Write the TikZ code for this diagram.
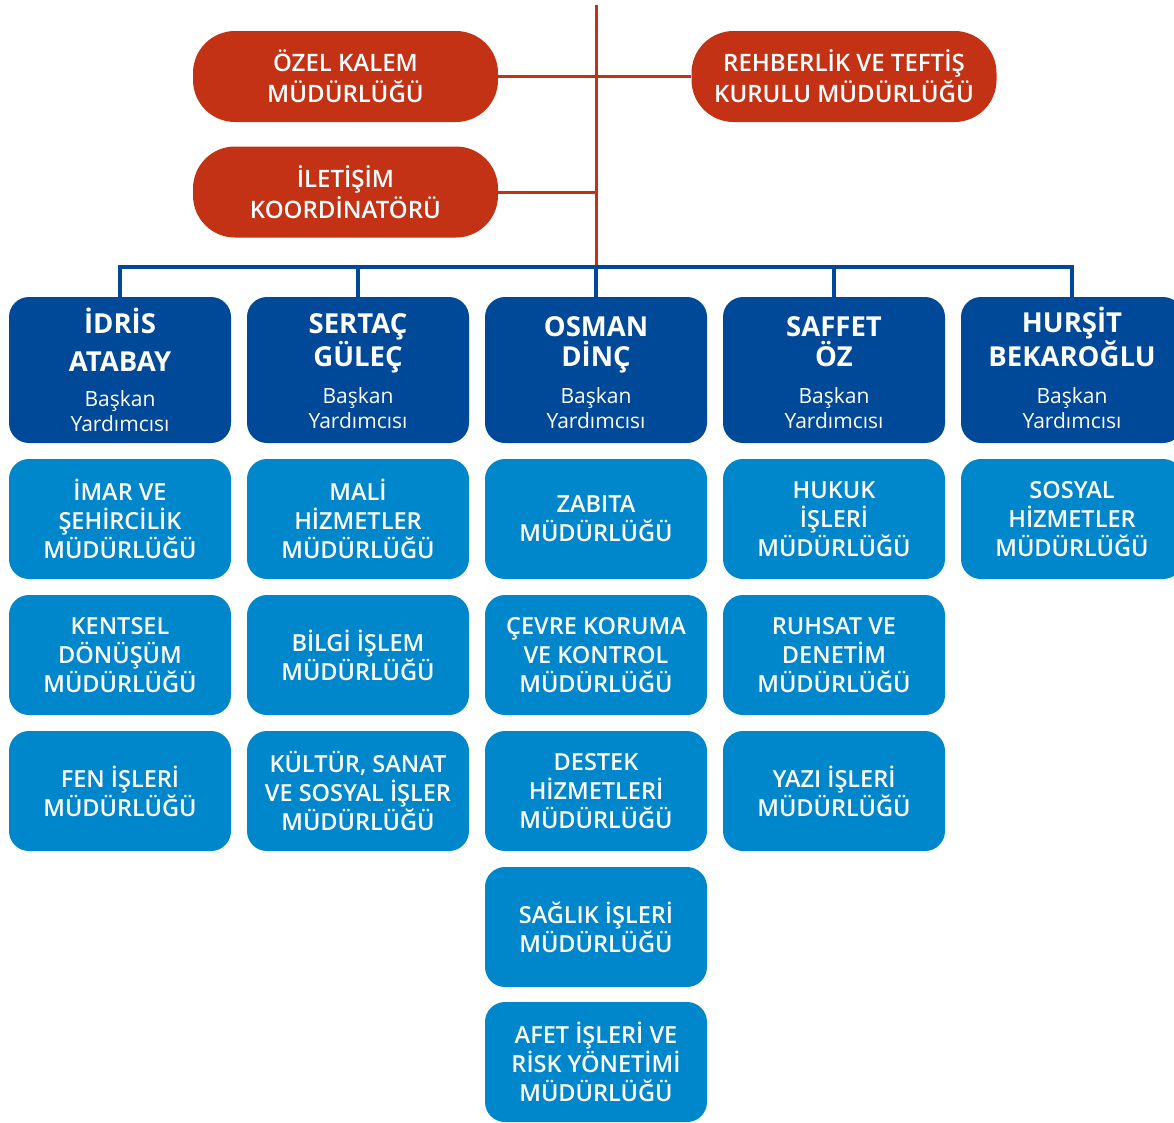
\documentclass[tikz,border=0pt]{standalone}
\usepackage{fontspec}
\setmainfont{Open Sans}
\IfFontExistsTF{Open Sans SemiBold}{\newfontfamily\semib{Open Sans SemiBold}}{%
  \IfFontExistsTF{Open Sans Semibold}{\newfontfamily\semib{Open Sans Semibold}}{%
    \newcommand{\semib}{\bfseries}}}
\definecolor{redc}{RGB}{196,50,22}
\definecolor{darkb}{RGB}{0,72,152}
\definecolor{lightb}{RGB}{0,134,202}
\begin{document}
\begin{tikzpicture}[x=1pt,y=-1pt,
  redbox/.style={fill=redc, rounded corners=42pt, minimum width=305pt, minimum height=91pt, text=white, align=center, inner sep=0pt, font=\semib\fontsize{24}{31}\selectfont},
  headbox/.style={fill=darkb, rounded corners=20pt, minimum width=222pt, minimum height=146pt, inner sep=0pt},
  nametxt/.style={text=white, align=center, inner sep=0pt, anchor=base, font=\bfseries\fontsize{27.5}{30}\selectfont},
  subtxt/.style={text=white, align=center, inner sep=0pt, anchor=base, font=\fontsize{21}{24.5}\selectfont},
  unitbox/.style={fill=lightb, rounded corners=20pt, minimum width=222pt, minimum height=120pt, text=white, align=center, inner sep=0pt, font=\semib\fontsize{23.5}{29}\selectfont},
  redline/.style={draw=redc, line width=3pt},
  blueline/.style={draw=darkb, line width=3.5pt},
]
\useasboundingbox (0,0) rectangle (1174,1122);

% top red nodes
\node[redbox] (ozel) at (345.5,76.5) {ÖZEL KALEM\\MÜDÜRLÜĞÜ};
\node[redbox] (rehber) at (844,76.5) {REHBERLİK VE TEFTİŞ\\KURULU MÜDÜRLÜĞÜ};
\node[redbox] (ilet) at (345.5,192) {İLETİŞİM\\KOORDİNATÖRÜ};

\coordinate (top) at (596,5);
\coordinate (bus) at (596,267);

% head boxes
\node[headbox] (d1) at (120,370) {};
\node[headbox] (d2) at (358,370) {};
\node[headbox] (d3) at (596,370) {};
\node[headbox] (d4) at (834,370) {};
\node[headbox] (d5) at (1072,370) {};

% (base anchor = baseline of the last line)
\node[nametxt] (d1n) at (120,371) {İDRİS\\[8pt]ATABAY};
\node[subtxt]  (d1s) at (120,431) {Başkan\\Yardımcısı};
\node[nametxt] (d2n) at (358,366) {SERTAÇ\\GÜLEÇ};
\node[subtxt]  (d2s) at (358,428) {Başkan\\Yardımcısı};
\node[nametxt] (d3n) at (596,366) {OSMAN\\DİNÇ};
\node[subtxt]  (d3s) at (596,428) {Başkan\\Yardımcısı};
\node[nametxt] (d4n) at (834,366) {SAFFET\\ÖZ};
\node[subtxt]  (d4s) at (834,428) {Başkan\\Yardımcısı};
\node[nametxt] (d5n) at (1072,366) {HURŞİT\\BEKAROĞLU};
\node[subtxt]  (d5s) at (1072,428) {Başkan\\Yardımcısı};

% connectors
\draw[redline] (top) -- (bus);
\draw[redline] (ozel.east) -- (rehber.west);
\draw[redline] (ilet.east) -- (ilet.east -| bus);
\draw[blueline] (d1.north) -- (d1.north |- bus) -- (d5.north |- bus) -- (d5.north);
\draw[blueline] (d2.north) -- (d2.north |- bus);
\draw[blueline] (d3.north) -- (d3.north |- bus);
\draw[blueline] (d4.north) -- (d4.north |- bus);

% unit nodes
\node[unitbox] (u11) at (120,519) {İMAR VE\\ŞEHİRCİLİK\\MÜDÜRLÜĞÜ};
\node[unitbox] (u12) at (120,655) {KENTSEL\\DÖNÜŞÜM\\MÜDÜRLÜĞÜ};
\node[unitbox] (u13) at (120,791) {FEN İŞLERİ\\MÜDÜRLÜĞÜ};

\node[unitbox] (u21) at (358,519) {MALİ\\HİZMETLER\\MÜDÜRLÜĞÜ};
\node[unitbox] (u22) at (358,655) {BİLGİ İŞLEM\\MÜDÜRLÜĞÜ};
\node[unitbox] (u23) at (358,791) {KÜLTÜR, SANAT\\VE SOSYAL İŞLER\\MÜDÜRLÜĞÜ};

\node[unitbox] (u31) at (596,519) {ZABITA\\MÜDÜRLÜĞÜ};
\node[unitbox] (u32) at (596,655) {ÇEVRE KORUMA\\VE KONTROL\\MÜDÜRLÜĞÜ};
\node[unitbox] (u33) at (596,791) {DESTEK\\HİZMETLERİ\\MÜDÜRLÜĞÜ};
\node[unitbox] (u34) at (596,927) {SAĞLIK İŞLERİ\\MÜDÜRLÜĞÜ};
\node[unitbox] (u35) at (596,1062) {AFET İŞLERİ VE\\RİSK YÖNETİMİ\\MÜDÜRLÜĞÜ};

\node[unitbox] (u41) at (834,519) {HUKUK\\İŞLERİ\\MÜDÜRLÜĞÜ};
\node[unitbox] (u42) at (834,655) {RUHSAT VE\\DENETİM\\MÜDÜRLÜĞÜ};
\node[unitbox] (u43) at (834,791) {YAZI İŞLERİ\\MÜDÜRLÜĞÜ};

\node[unitbox] (u51) at (1072,519) {SOSYAL\\HİZMETLER\\MÜDÜRLÜĞÜ};
\end{tikzpicture}
\end{document}
